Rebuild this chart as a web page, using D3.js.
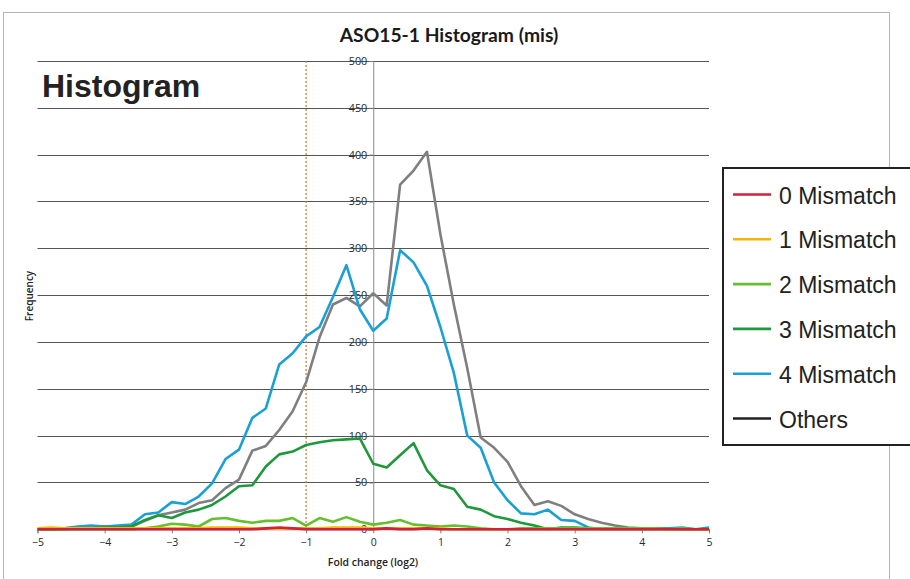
<!DOCTYPE html>
<html>
<head>
<meta charset="utf-8">
<script src="https://cdn.jsdelivr.net/npm/d3@7/dist/d3.min.js"></script>
<style>
  html, body { margin: 0; padding: 0; background: #fff; }
  svg { display: block; }
</style>
</head>
<body>
<svg id="chart" width="910" height="579"></svg>
<script>
// ---- data ----
const bins = [-5.0,-4.8,-4.6,-4.4,-4.2,-4.0,-3.8,-3.6,-3.4,-3.2,-3.0,-2.8,-2.6,-2.4,-2.2,-2.0,-1.8,-1.6,-1.4,-1.2,-1.0,-0.8,-0.6,-0.4,-0.2,0.0,0.2,0.4,0.6,0.8,1.0,1.2,1.4,1.6,1.8,2.0,2.2,2.4,2.6,2.8,3.0,3.2,3.4,3.6,3.8,4.0,4.2,4.4,4.6,4.8,5.0];

const mismatch0 = [0,0,0,0,0,0,0,0,0,0,0,0,0,0,0,0,0,1,2,1,0,0,0,0,0,0,1,0,0,1,0,0,0,0,0,0,0,0,0,0,0,0,0,0,0,0,0,0,0,0,0];
const mismatch1 = [1,2,1,1,1,1,1,1,1,1,1,1,1,2,2,2,1,1,1,1,1,1,2,2,2,1,1,1,1,1,1,0,0,0,0,0,0,0,0,0,0,0,0,0,0,0,0,0,0,0,0];
const mismatch2 = [0,0,0,0,0,0,0,0,1,3,6,5,3,11,12,9,7,9,9,12,4,12,8,13,8,5,7,10,5,4,3,4,3,1,0,0,1,1,1,1,1,1,1,1,1,1,1,0,1,0,0];
const mismatch3 = [0,0,0,1,1,2,2,3,10,15,12,18,21,26,35,46,47,67,80,83,90,93,95,96,97,70,66,79,92,63,47,43,24,21,14,11,7,4,0,2,2,1,1,1,1,1,1,0,0,0,0];
const mismatch4 = [0,0,1,3,4,3,4,5,16,18,29,27,35,49,75,85,119,129,176,188,206,216,248,282,235,212,225,298,285,260,216,167,100,87,50,31,17,16,21,10,9,2,0,0,0,0,0,1,2,0,2];
const others    = [0,0,1,2,2,3,2,3,9,15,18,21,28,31,44,53,84,89,106,126,157,205,240,247,238,252,239,368,383,403,315,240,172,98,87,72,46,26,30,25,16,11,7,4,2,1,1,1,0,0,0];

const seriesNames  = ["0 Mismatch","1 Mismatch","2 Mismatch","3 Mismatch","4 Mismatch","Others"];
const seriesColors = ["#d3213b","#f2b705","#66bf2e","#1f983c","#1aa0d4","#7f7f7f"];
const legendColors = ["#d3213b","#f2b705","#66bf2e","#1f983c","#1aa0d4","#222222"];
const seriesValues = [mismatch0, mismatch1, mismatch2, mismatch3, mismatch4, others];

const xTicks = [-5,-4,-3,-2,-1,0,1,2,3,4,5];
const yTicks = [0,50,100,150,200,250,300,350,400,450,500];
const thresholdX = -1;

const chartTitle = "ASO15-1 Histogram (mis)";
const xTitle = "Fold change (log2)";
const yTitle = "Frequency";
const bigLabel = "Histogram";

// ---- layout ----
const svg = d3.select("#chart");
const x = d3.scaleLinear().domain([-5, 5]).range([37.5, 709]);
const y = d3.scaleLinear().domain([0, 500]).range([529.3, 61]);

// outer chart border
svg.append("rect")
  .attr("x", 3.5).attr("y", 12.5).attr("width", 886).attr("height", 620)
  .attr("fill", "none").attr("stroke", "#b5b5b5").attr("stroke-width", 1);

// title
svg.append("text")
  .attr("x", 449).attr("y", 42)
  .attr("text-anchor", "middle")
  .attr("font-family", "Lato, 'Open Sans', sans-serif")
  .attr("font-weight", 700)
  .attr("font-size", 19.3)
  .attr("fill", "#1a1a1a")
  .text(chartTitle);

// gridlines
svg.append("g").selectAll("line")
  .data(yTicks.filter(d => d > 0))
  .join("line")
  .attr("x1", x(-5)).attr("x2", x(5))
  .attr("y1", d => Math.round(y(d)) + 0.5).attr("y2", d => Math.round(y(d)) + 0.5)
  .attr("stroke", "#555").attr("stroke-width", 1);

// y axis labels (at x = 0)
const yAxis = d3.axisLeft(y).tickValues(yTicks).tickSize(4).tickPadding(2);
const gy = svg.append("g").attr("transform", `translate(${x(0)},0)`).call(yAxis);
gy.select(".domain").attr("stroke", "#8a8a8a");
gy.selectAll(".tick line").attr("stroke", "#777");
gy.selectAll(".tick text")
  .attr("font-family", "'Open Sans', sans-serif")
  .attr("font-size", 10.8).attr("fill", "#2a2a2a");

// threshold dotted line
svg.append("line")
  .attr("x1", x(thresholdX)).attr("x2", x(thresholdX))
  .attr("y1", y(500)).attr("y2", y(0))
  .attr("stroke", "#c8773a").attr("stroke-width", 1.2)
  .attr("stroke-dasharray", "2,2");

// x axis
const xAxis = d3.axisBottom(x).tickValues(xTicks).tickSize(4).tickPadding(5).tickFormat(d3.format("d"));
const gx = svg.append("g").attr("transform", `translate(0,${y(0)})`).call(xAxis);
gx.select(".domain").attr("stroke", "#888");
gx.selectAll(".tick line").attr("stroke", "#777");
gx.selectAll(".tick text")
  .attr("font-family", "'Open Sans', sans-serif")
  .attr("font-size", 10.5).attr("fill", "#2a2a2a");

// axis titles
svg.append("text")
  .attr("x", 373).attr("y", 566)
  .attr("text-anchor", "middle")
  .attr("font-family", "'Open Sans', sans-serif")
  .attr("font-weight", 600).attr("font-size", 10.4).attr("fill", "#222")
  .text(xTitle);

svg.append("text")
  .attr("transform", "translate(33,296) rotate(-90)")
  .attr("text-anchor", "middle")
  .attr("font-family", "'Open Sans', sans-serif")
  .attr("font-weight", 600).attr("font-size", 10).attr("fill", "#222")
  .text(yTitle);

// big label
svg.append("text")
  .attr("x", 42).attr("y", 97)
  .attr("font-family", "'Liberation Sans', Arial, sans-serif")
  .attr("font-weight", 700).attr("font-size", 32).attr("fill", "#222")
  .text(bigLabel);

// lines
const line = d3.line()
  .x((d, i) => x(bins[i]))
  .y(d => y(d));

const order = [5, 4, 3, 2, 1, 0];
svg.append("g").selectAll("path")
  .data(order)
  .join("path")
  .attr("d", k => line(seriesValues[k]))
  .attr("fill", "none")
  .attr("stroke", k => seriesColors[k])
  .attr("stroke-width", 2.6)
  .attr("stroke-linejoin", "round");

// legend
const lg = svg.append("g");
lg.append("rect")
  .attr("x", 723).attr("y", 168).attr("width", 200).attr("height", 277)
  .attr("fill", "#fff").attr("stroke", "#222").attr("stroke-width", 2);
const rows = lg.selectAll("g.row").data(seriesNames).join("g")
  .attr("class", "row")
  .attr("transform", (d, i) => `translate(0,${194.5 + i * 44.8})`);
rows.append("line")
  .attr("x1", 733).attr("x2", 771).attr("y1", 0).attr("y2", 0)
  .attr("stroke", (d, i) => legendColors[i]).attr("stroke-width", 2.6);
rows.append("text")
  .attr("x", 779).attr("y", 9)
  .attr("font-family", "'Liberation Sans', Arial, sans-serif")
  .attr("font-size", 23).attr("fill", "#222")
  .text(d => d);
</script>
</body>
</html>
